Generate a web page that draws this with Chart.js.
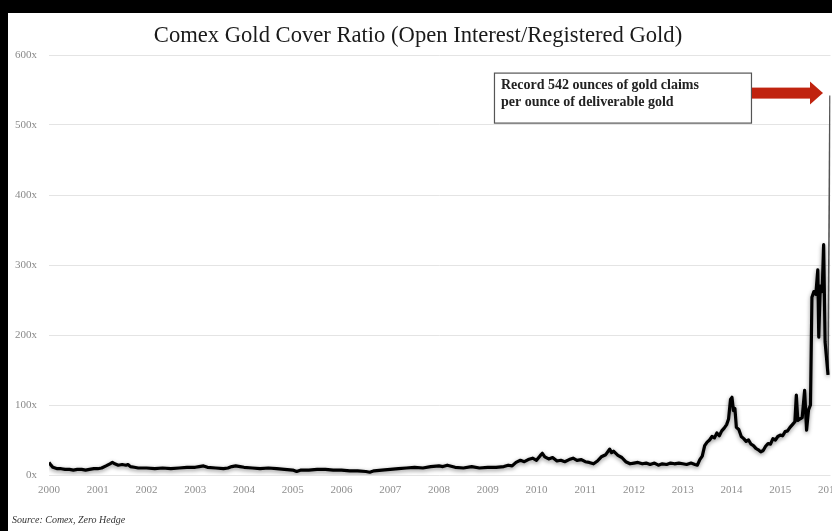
<!DOCTYPE html>
<html><head><meta charset="utf-8">
<script src="https://cdn.jsdelivr.net/npm/chart.js@4.4.0/dist/chart.umd.min.js"></script>
<style>
html,body{margin:0;padding:0;background:#000;width:832px;height:531px;overflow:hidden;}
#panel{position:absolute;left:8px;top:13px;width:841px;height:518px;background:#fff;}
#wrap{position:absolute;left:0;top:0;width:841px;height:518px;}
#title{position:absolute;left:0;top:9px;width:820px;text-align:center;font-family:'Liberation Serif',serif;font-size:22.6px;line-height:26px;color:#1a1a1a;white-space:nowrap;}
#source{position:absolute;left:4px;top:500px;font-family:'Liberation Serif',serif;font-style:italic;font-size:10px;line-height:14px;color:#333;white-space:nowrap;}
</style></head>
<body>
<div id="panel">
  <div id="wrap"><canvas id="c"></canvas></div>
  <div id="title">Comex Gold Cover Ratio (Open Interest/Registered Gold)</div>
  <div id="source">Source: Comex, Zero Hedge</div>
</div>
<script>
// Decimal-year dates and cover ratio values
const dates = [
2000.00,2000.04,2000.08,2000.17,2000.25,2000.33,2000.42,2000.50,2000.58,2000.67,2000.75,2000.83,2000.92,
2001.00,2001.08,2001.17,2001.25,2001.30,2001.35,2001.42,2001.50,2001.58,2001.62,2001.67,2001.75,2001.83,2001.92,
2002.00,2002.17,2002.33,2002.50,2002.67,2002.83,
2003.00,2003.08,2003.17,2003.25,2003.42,2003.58,2003.67,2003.75,2003.83,2003.92,
2004.00,2004.17,2004.33,2004.50,2004.67,2004.83,
2005.00,2005.08,2005.17,2005.33,2005.50,2005.67,2005.83,
2006.00,2006.17,2006.33,2006.50,2006.58,2006.67,2006.83,
2007.00,2007.17,2007.33,2007.50,2007.67,2007.83,
2008.00,2008.08,2008.17,2008.33,2008.50,2008.67,2008.83,
2009.00,2009.17,2009.33,2009.42,2009.50,2009.58,2009.67,2009.75,2009.83,2009.92,
2010.00,2010.08,2010.12,2010.17,2010.25,2010.33,2010.42,2010.50,2010.58,2010.67,2010.75,2010.83,2010.92,
2011.00,2011.08,2011.17,2011.25,2011.33,2011.42,2011.50,2011.54,2011.58,2011.67,2011.75,2011.83,2011.92,
2012.00,2012.08,2012.17,2012.25,2012.33,2012.42,2012.50,2012.58,2012.67,2012.75,2012.83,2012.92,
2013.00,2013.08,2013.17,2013.25,2013.30,2013.35,2013.40,2013.45,2013.50,2013.55,2013.60,2013.65,2013.70,2013.75,2013.80,2013.85,2013.90,2013.94,2013.98,
2014.01,2014.04,2014.07,2014.10,2014.15,2014.20,2014.25,2014.30,2014.35,2014.40,2014.45,2014.50,2014.55,2014.60,2014.65,2014.70,2014.75,2014.80,2014.85,2014.90,2014.95,
2015.00,2015.05,2015.10,2015.15,2015.20,2015.25,2015.30,2015.33,2015.36,2015.40,2015.45,2015.50,2015.54,2015.58,2015.62,2015.65,2015.69,2015.73,2015.77,2015.79,2015.82,2015.86,2015.89,2015.92,2015.98
];
const ratios = [
18,14,11,9,9,8,8,7,8,8,7,8,9,
9,10,13,16,18,16,14,15,14,15,12,11,10,10,
10,9,10,9,10,11,
11,12,13,11,10,9,10,12,13,12,
11,10,9,10,9,8,
7,5,7,7,8,8,7,
7,6,6,5,4,6,7,
8,9,10,11,10,12,
13,12,14,11,10,12,10,
11,11,12,14,13,18,21,19,22,24,
21,28,31,26,23,25,20,21,19,22,24,21,22,
19,18,16,20,26,29,37,32,34,28,25,19,16,
17,18,16,17,15,17,14,16,15,17,16,17,
16,15,17,15,14,22,27,42,47,50,55,53,60,56,63,67,72,80,108,
111,92,95,68,65,55,52,48,50,44,42,38,36,33,35,41,45,44,52,50,55,
57,56,62,63,68,72,76,114,78,80,82,121,64,93,100,254,262,258,293,197,270,262,329,190,143
];
// Final record reading (thin line)
const spikeDates = [2015.98, 2016.02];
const spikeRatios = [143, 542];
const recordValue = 542;
const xTickYears = [2000,2001,2002,2003,2004,2005,2006,2007,2008,2009,2010,2011,2012,2013,2014,2015,2016];
const yTickValues = [0,100,200,300,400,500,600];
const noteLines = ['Record 542 ounces of gold claims', 'per ounce of deliverable gold'];

const shadowPlugin = {
  id: 'shadow',
  beforeDatasetDraw(chart, args) {
    if (args.index === 0) {
      const ctx = chart.ctx; ctx.save();
      ctx.shadowColor = 'rgba(0,0,0,0.45)'; ctx.shadowBlur = 4; ctx.shadowOffsetY = 1.5;
    }
  },
  afterDatasetDraw(chart, args) { if (args.index === 0) chart.ctx.restore(); }
};

const notePlugin = {
  id: 'note',
  afterDraw(chart) {
    const ctx = chart.ctx, xs = chart.scales.x, ys = chart.scales.y;
    const tipX = xs.getPixelForValue(spikeDates[spikeDates.length - 1]) - 7;
    const ay = ys.getPixelForValue(recordValue) - 3;
    const boxR = tipX - 72, boxL = boxR - 257, boxT = ay - 20, boxB = ay + 30;
    ctx.save();
    ctx.fillStyle = '#fff'; ctx.fillRect(boxL, boxT, boxR - boxL, boxB - boxT);
    ctx.strokeStyle = '#555'; ctx.lineWidth = 1.2; ctx.strokeRect(boxL + 0.5, boxT + 0.5, boxR - boxL, boxB - boxT);
    ctx.fillStyle = '#222'; ctx.font = 'bold 14px "Liberation Serif", serif';
    ctx.textBaseline = 'middle'; ctx.textAlign = 'left';
    ctx.fillText(noteLines[0], boxL + 7, boxT + 13);
    ctx.fillText(noteLines[1], boxL + 7, boxT + 30);
    // arrow
    ctx.fillStyle = '#c0230f';
    ctx.fillRect(boxR + 1, ay - 5, tipX - 12 - boxR - 1, 11);
    ctx.beginPath(); ctx.moveTo(tipX - 13, ay - 11); ctx.lineTo(tipX, ay + 0.5); ctx.lineTo(tipX - 13, ay + 12); ctx.closePath(); ctx.fill();
    ctx.restore();
  }
};

new Chart(document.getElementById('c'), {
  type: 'line',
  data: {
    datasets: [
      { data: dates.map((d, i) => ({x: d, y: ratios[i]})), borderColor: '#000', borderWidth: 3.2, pointRadius: 0, tension: 0, borderJoinStyle: 'round' },
      { data: spikeDates.map((d, i) => ({x: d, y: spikeRatios[i]})), borderColor: '#555', borderWidth: 1.6, pointRadius: 0, tension: 0 }
    ]
  },
  options: {
    responsive: true, maintainAspectRatio: false, animation: false,
    layout: { padding: { top: 42, left: 0, right: 0, bottom: 0 } },
    plugins: { legend: { display: false }, tooltip: { enabled: false }, title: { display: false } },
    scales: {
      x: {
        type: 'linear', min: 2000, max: 2016.03,
        grid: { display: false, drawTicks: false }, border: { display: false },
        afterBuildTicks: s => { s.ticks = xTickYears.map(v => ({value: v})); },
        afterFit: s => { s.height = 56; },
        ticks: { includeBounds: false, autoSkip: false, maxRotation: 0, padding: 9, color: '#8f8f8f',
          font: { family: '"Liberation Serif", serif', size: 11 }, callback: v => String(v) }
      },
      y: {
        min: 0, max: 600,
        grid: { color: '#e4e4e4', lineWidth: 1, drawTicks: false }, border: { display: false },
        afterBuildTicks: s => { s.ticks = yTickValues.map(v => ({value: v})); },
        afterFit: s => { s.width = 41; },
        ticks: { padding: 12, color: '#8a8a8a', font: { family: '"Liberation Serif", serif', size: 11 }, callback: v => v + 'x' }
      }
    }
  },
  plugins: [shadowPlugin, notePlugin]
});
</script>
</body></html>
